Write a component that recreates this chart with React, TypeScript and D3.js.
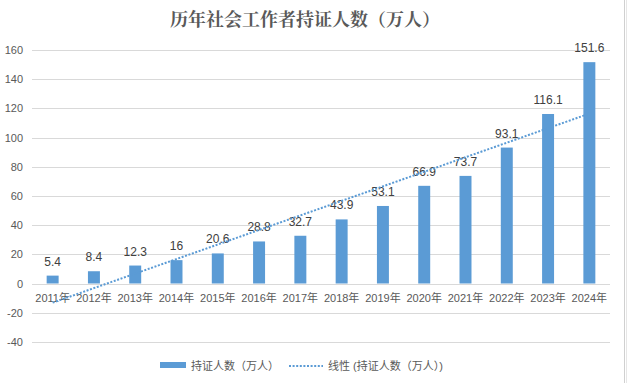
import React from "react";
import * as d3 from "d3";

const years = ["2011年","2012年","2013年","2014年","2015年","2016年","2017年","2018年","2019年","2020年","2021年","2022年","2023年","2024年"];
const values = [5.4, 8.4, 12.3, 16, 20.6, 28.8, 32.7, 43.9, 53.1, 66.9, 73.7, 93.1, 116.1, 151.6];
const yTicks = [160, 140, 120, 100, 80, 60, 40, 20, 0, -20, -40];
const title = "历年社会工作者持证人数（万人）";
const seriesName = "持证人数（万人）";
const trendName = "线性 (持证人数（万人）)";

const W = 627, H = 383;
const FONT = "'Liberation Sans', 'Noto Sans CJK SC', sans-serif";
const BLUE = "#5b9bd5";

export default function App() {
  const x = d3.scaleBand<string>().domain(years).range([32, 610]).paddingInner(0.71).paddingOuter(0.355);
  const y = d3.scaleLinear().domain([-40, 160]).range([341.9, 49.9]);

  // linear regression trendline (Excel "linear" trend)
  const xs = values.map((_, i) => i + 1);
  const mx = d3.mean(xs)!, my = d3.mean(values)!;
  const sxy = d3.sum(xs, (xi, i) => (xi - mx) * (values[i] - my));
  const sxx = d3.sum(xs, (xi) => (xi - mx) ** 2);
  const slope = sxy / sxx;
  const icpt = my - slope * mx;
  const trendPts: [number, number][] = [1, years.length].map((xi) => [
    x(years[xi - 1])! + x.bandwidth() / 2,
    y(icpt + slope * xi),
  ]);
  const line = d3.line();

  return (
    <svg width={W} height={H} style={{ position: "fixed", left: 0, top: 0, background: "#fff" }} fontFamily={FONT}>
      <rect x={0} y={0} width={W} height={H} fill="#fff" />
      <text x={305} y={26} textAnchor="middle" fontSize={18} fontWeight="bold" fill="#595959"
        fontFamily="'Noto Serif CJK SC', 'Noto Sans CJK SC', serif">{title}</text>
      {yTicks.map((t) => (
        <g key={t}>
          <line x1={32} x2={610} y1={Math.round(y(t)) + 0.5} y2={Math.round(y(t)) + 0.5} stroke="#d9d9d9" strokeWidth={1} />
          <text x={23} y={y(t) + 4} textAnchor="end" fontSize={11} fill="#595959">{t}</text>
        </g>
      ))}
      {values.map((v, i) => (
        <rect key={i} x={x(years[i])} y={y(v)} width={x.bandwidth()} height={y(0) - y(v)} fill={BLUE} />
      ))}
      {values.map((v, i) => (
        <text key={"l" + i} x={x(years[i])! + x.bandwidth() / 2} y={y(v) - 10} textAnchor="middle" fontSize={12} fill="#404040">{v}</text>
      ))}
      {years.map((yr) => (
        <text key={yr} x={x(yr)! + x.bandwidth() / 2} y={302} textAnchor="middle" fontSize={11} fill="#595959">{yr}</text>
      ))}
      <path d={line(trendPts)!} stroke={BLUE} strokeWidth={2} strokeDasharray="2 1.6" fill="none" />
      {/* legend */}
      <rect x={160} y={362} width={26} height={6} fill={BLUE} />
      <text x={191} y={370} fontSize={11} fill="#595959">{seriesName}</text>
      <line x1={289} x2={323} y1={366} y2={366} stroke={BLUE} strokeWidth={2} strokeDasharray="2 1.6" />
      <text x={328} y={370} fontSize={11} fill="#595959">{trendName}</text>
      {/* right frame edge */}
      <line x1={624.5} x2={624.5} y1={0} y2={H} stroke="#d0d0d0" strokeWidth={1} />
      <line x1={626.5} x2={626.5} y1={0} y2={H} stroke="#e6e6e6" strokeWidth={1} />
    </svg>
  );
}
